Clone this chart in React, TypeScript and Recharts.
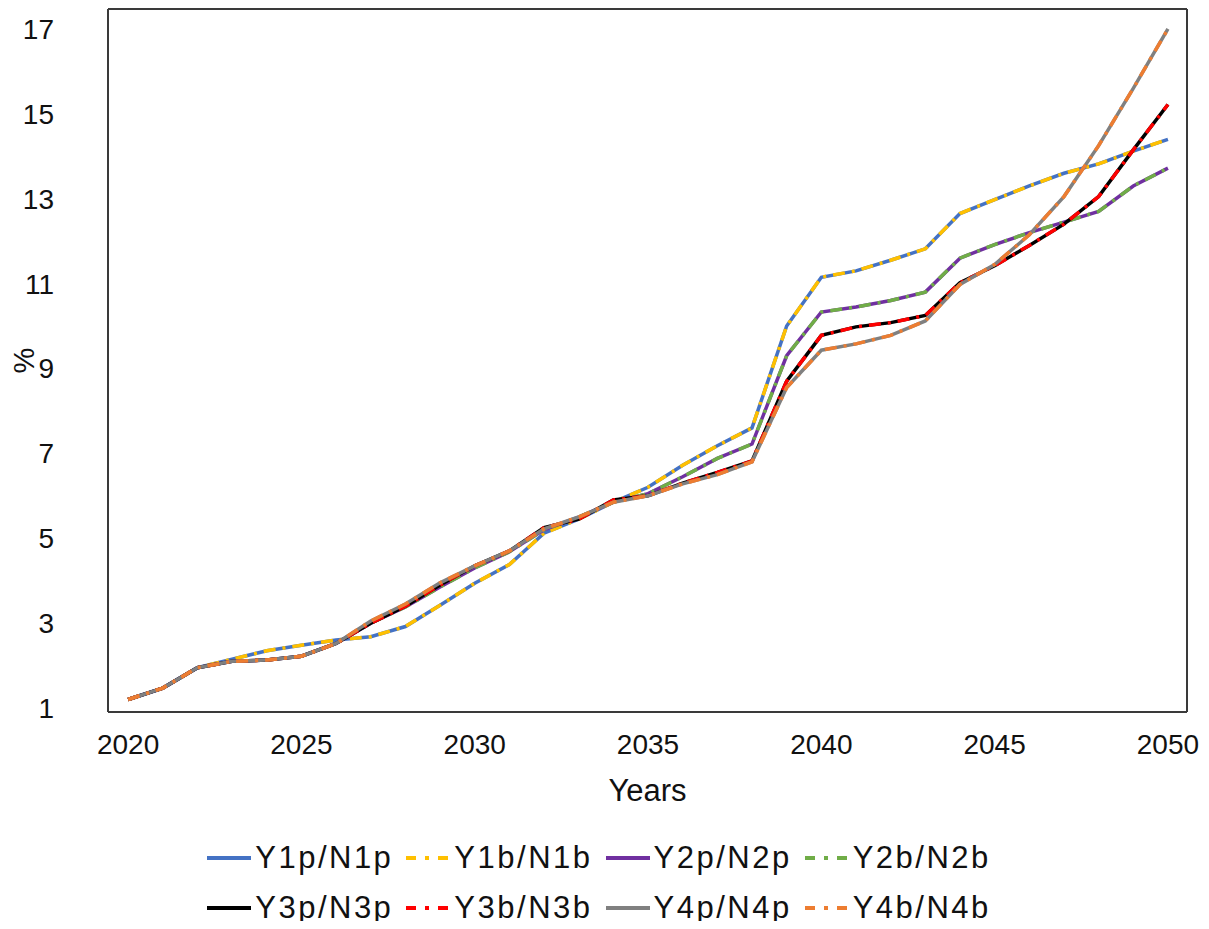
import React from 'react';
import { LineChart, Line, XAxis, YAxis, Legend, Label, ReferenceLine } from 'recharts';

const years = [2020, 2021, 2022, 2023, 2024, 2025, 2026, 2027, 2028, 2029, 2030, 2031, 2032, 2033, 2034, 2035, 2036, 2037, 2038, 2039, 2040, 2041, 2042, 2043, 2044, 2045, 2046, 2047, 2048, 2049, 2050];

const y1p = [1.2, 1.47, 1.95, 2.15, 2.35, 2.48, 2.6, 2.68, 2.92, 3.42, 3.94, 4.38, 5.12, 5.45, 5.85, 6.2, 6.72, 7.18, 7.6, 10.0, 11.15, 11.3, 11.55, 11.82, 12.65, 12.98, 13.3, 13.6, 13.82, 14.12, 14.4];
const y1b = [1.2, 1.47, 1.95, 2.15, 2.35, 2.48, 2.6, 2.68, 2.92, 3.42, 3.94, 4.38, 5.12, 5.45, 5.85, 6.2, 6.72, 7.18, 7.6, 10.0, 11.15, 11.3, 11.55, 11.82, 12.65, 12.98, 13.3, 13.6, 13.82, 14.12, 14.4];
const y2p = [1.2, 1.47, 1.95, 2.1, 2.13, 2.22, 2.52, 3.0, 3.38, 3.85, 4.3, 4.68, 5.2, 5.5, 5.85, 6.05, 6.45, 6.88, 7.22, 9.3, 10.33, 10.45, 10.6, 10.8, 11.6, 11.92, 12.2, 12.45, 12.7, 13.3, 13.72];
const y2b = [1.2, 1.47, 1.95, 2.1, 2.13, 2.22, 2.52, 3.0, 3.38, 3.85, 4.3, 4.68, 5.2, 5.5, 5.85, 6.05, 6.45, 6.88, 7.22, 9.3, 10.33, 10.45, 10.6, 10.8, 11.6, 11.92, 12.2, 12.45, 12.7, 13.3, 13.72];
const y3p = [1.2, 1.47, 1.95, 2.1, 2.13, 2.22, 2.52, 3.0, 3.4, 3.9, 4.35, 4.7, 5.25, 5.45, 5.9, 6.0, 6.3, 6.55, 6.82, 8.7, 9.78, 9.98, 10.08, 10.25, 11.02, 11.42, 11.9, 12.4, 13.05, 14.15, 15.22];
const y3b = [1.2, 1.47, 1.95, 2.1, 2.13, 2.22, 2.52, 3.0, 3.4, 3.9, 4.35, 4.7, 5.25, 5.45, 5.9, 6.0, 6.3, 6.55, 6.82, 8.7, 9.78, 9.98, 10.08, 10.25, 11.02, 11.42, 11.9, 12.4, 13.05, 14.15, 15.22];
const y4p = [1.2, 1.47, 1.95, 2.1, 2.13, 2.22, 2.52, 3.05, 3.45, 3.95, 4.35, 4.7, 5.22, 5.5, 5.85, 6.0, 6.28, 6.5, 6.8, 8.55, 9.43, 9.58, 9.78, 10.12, 10.98, 11.45, 12.15, 13.05, 14.25, 15.6, 17.0];
const y4b = [1.2, 1.47, 1.95, 2.1, 2.13, 2.22, 2.52, 3.05, 3.45, 3.95, 4.35, 4.7, 5.22, 5.5, 5.85, 6.0, 6.28, 6.5, 6.8, 8.55, 9.43, 9.58, 9.78, 10.12, 10.98, 11.45, 12.15, 13.05, 14.25, 15.6, 17.0];

const xTicks = [2020, 2025, 2030, 2035, 2040, 2045, 2050];
const yTicks = [1, 3, 5, 7, 9, 11, 13, 15, 17];
const xDomain = [2019.42, 2050.55];
const yDomain = [0.906, 17.47];

const seriesNames = ['Y1p/N1p', 'Y1b/N1b', 'Y2p/N2p', 'Y2b/N2b', 'Y3p/N3p', 'Y3b/N3b', 'Y4p/N4p', 'Y4b/N4b'];
const seriesKeys = ['y1p', 'y1b', 'y2p', 'y2b', 'y3p', 'y3b', 'y4p', 'y4b'];
const seriesColors = ['#4472C4', '#FFC000', '#7030A0', '#70AD47', '#000000', '#FF0000', '#808080', '#ED7D31'];
const seriesDashed = [false, true, false, true, false, true, false, true];
const seriesValues = [y1p, y1b, y2p, y2b, y3p, y3b, y4p, y4b];

const data = years.map((year, i) => {
  const row: Record<string, number> = { year };
  seriesKeys.forEach((k, j) => {
    row[k] = seriesValues[j][i];
  });
  return row;
});

const FONT = '"Liberation Sans", Arial, Helvetica, sans-serif';
const AXIS_COLOR = '#3a3a3a';
const DASH = '12 7 3 7';

const renderLegend = () => {
  const rows = [[0, 1, 2, 3], [4, 5, 6, 7]];
  return (
    <div style={{ fontFamily: FONT }}>
      {rows.map((row, ri) => (
        <div key={ri} style={{ display: 'flex', justifyContent: 'center', alignItems: 'center', height: 50 }}>
          {row.map((idx) => (
            <div key={idx} style={{ display: 'flex', alignItems: 'center', marginRight: 12 }}>
              <svg width={46} height={10} style={{ marginRight: 3 }}>
                <line
                  x1={1}
                  y1={5}
                  x2={45}
                  y2={5}
                  stroke={seriesColors[idx]}
                  strokeWidth={4}
                  strokeDasharray={seriesDashed[idx] ? '10 9 4 9' : undefined}
                />
              </svg>
              <span style={{ fontSize: 31, color: '#111', letterSpacing: 2.5, lineHeight: '34px' }}>{seriesNames[idx]}</span>
            </div>
          ))}
        </div>
      ))}
    </div>
  );
};

const YLabel = (props: any) => {
  const vb = props.viewBox || { x: 0, y: 0, width: 0, height: 0 };
  const cx = vb.x + 16;
  const cy = vb.y + vb.height / 2;
  return (
    <text x={cx} y={cy} transform={`rotate(-90, ${cx}, ${cy})`} textAnchor="middle" dominantBaseline="central" fontSize={29} fill="#111" fontFamily={FONT}>
      %
    </text>
  );
};

export default function App() {
  return (
    <div style={{ width: 1193, height: 913, position: 'relative', fontFamily: FONT }}>
      <LineChart width={1193} height={913} data={data} margin={{ top: 1, right: 14, left: 0, bottom: 119 }} style={{ fontFamily: FONT }}>
        <XAxis
          dataKey="year"
          type="number"
          domain={xDomain}
          ticks={xTicks}
          allowDataOverflow
          height={90}
          tickLine={false}
          tickSize={0}
          tickMargin={22}
          axisLine={{ stroke: AXIS_COLOR, strokeWidth: 2 }}
          tick={{ fontSize: 28, fill: '#111', fontFamily: FONT }}
        >
          <Label value="Years" position="insideTop" offset={67} style={{ fontSize: 31, fill: '#111', fontFamily: FONT }} />
        </XAxis>
        <YAxis
          type="number"
          domain={yDomain}
          ticks={yTicks}
          allowDataOverflow
          width={100}
          tickLine={false}
          tickSize={0}
          tickMargin={54}
          axisLine={{ stroke: AXIS_COLOR, strokeWidth: 2 }}
          tick={{ fontSize: 28, fill: '#111', fontFamily: FONT }}
        >
          <Label content={<YLabel />} />
        </YAxis>
        <ReferenceLine y={yDomain[1]} stroke={AXIS_COLOR} strokeWidth={2} ifOverflow="extendDomain" />
        <ReferenceLine x={xDomain[1]} stroke={AXIS_COLOR} strokeWidth={2} ifOverflow="extendDomain" />
        <Legend
          layout="horizontal"
          verticalAlign="middle"
          align="center"
          content={renderLegend}
          wrapperStyle={{ position: 'absolute', top: 825, left: 0, width: 1193, height: 100 }}
        />
        {seriesKeys.map((k, j) => (
          <Line
            key={k}
            type="linear"
            dataKey={k}
            name={seriesNames[j]}
            stroke={seriesColors[j]}
            strokeWidth={3.5}
            strokeDasharray={seriesDashed[j] ? DASH : undefined}
            dot={false}
            activeDot={false}
            isAnimationActive={false}
          />
        ))}
      </LineChart>
    </div>
  );
}
